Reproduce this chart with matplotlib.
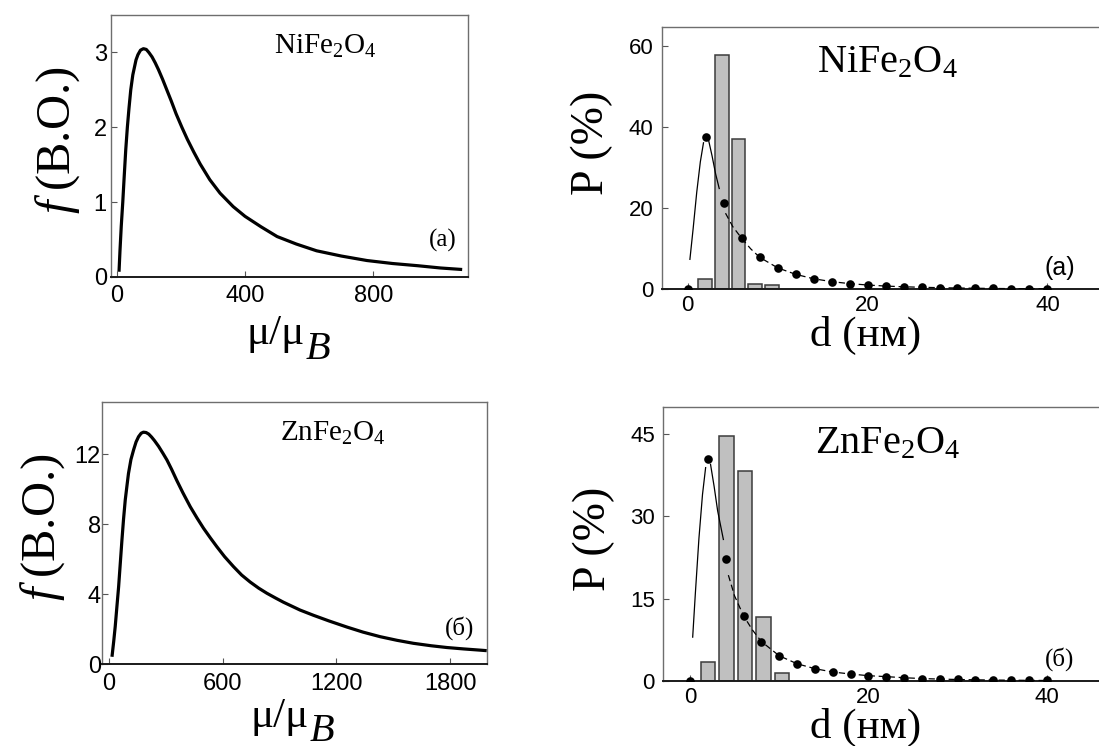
#!/usr/bin/env python3
"""Magnetic moment distributions f(mu/mu_B) and particle size histograms P(d)
for NiFe2O4 and ZnFe2O4."""

import matplotlib
matplotlib.use("Agg")
from matplotlib import pyplot as plt

plt.rcParams["mathtext.fontset"] = "custom"
plt.rcParams["mathtext.rm"] = "Liberation Serif"
plt.rcParams["mathtext.it"] = "Liberation Serif:italic"
plt.rcParams["mathtext.bf"] = "Liberation Serif:bold"

SERIF = "Liberation Serif"
SANS = "Liberation Sans"

# --- left column: moment distribution f (a.u.) vs mu/mu_B
ni_mu = [7, 10, 14, 18.7, 23, 28, 33, 38, 43.6, 50, 55, 60, 66, 74, 83, 92,
         100, 110, 120, 130, 143, 156, 170, 185, 203, 220, 240, 260, 290, 322,
         363, 400, 450, 500, 560, 623, 700, 780, 860, 940, 1010, 1077]
ni_f = [0.07, 0.35, 0.68, 1.0, 1.33, 1.7, 2.0, 2.25, 2.5, 2.7, 2.8, 2.9, 2.97,
        3.03, 3.05, 3.04, 3.0, 2.94, 2.86, 2.77, 2.64, 2.5, 2.35, 2.18, 2.0,
        1.84, 1.67, 1.51, 1.3, 1.12, 0.94, 0.81, 0.67, 0.54, 0.44, 0.35, 0.28,
        0.22, 0.18, 0.15, 0.12, 0.10]

zn_mu = [16, 25, 33, 42, 51, 60, 68.5, 77, 86, 95, 103, 116, 130, 143, 156,
         170, 182, 196, 210, 225, 240, 262, 285, 306, 330, 358, 390, 429, 465,
         499, 535, 569, 610, 657, 700, 745, 790, 833, 880, 920, 965, 1008,
         1079, 1160, 1255, 1340, 1430, 1520, 1606, 1700, 1782, 1870, 1957, 1993]
zn_f = [0.43, 1.3, 2.15, 3.3, 4.43, 5.8, 7.1, 8.3, 9.39, 10.2, 10.9, 11.7,
        12.25, 12.7, 13.0, 13.2, 13.26, 13.24, 13.15, 12.98, 12.78, 12.45,
        12.05, 11.67, 11.15, 10.5, 9.8, 9.0, 8.35, 7.77, 7.22, 6.72, 6.15,
        5.58, 5.1, 4.7, 4.35, 4.06, 3.78, 3.55, 3.32, 3.1, 2.8, 2.48, 2.13,
        1.84, 1.58, 1.37, 1.2, 1.06, 0.96, 0.88, 0.81, 0.78]

# --- right column: size histogram P (%) vs d (nm)
ni_bar_d = [1.9, 3.8, 5.65, 7.5, 9.35]
ni_bar_p = [2.5, 58.0, 37.1, 1.3, 1.0]
zn_bar_d = [2.05, 4.1, 6.15, 8.25, 10.3]
zn_bar_p = [3.5, 44.7, 38.2, 11.7, 1.5]

dot_d = [0, 2, 4, 6, 8, 10, 12, 14, 16, 18, 20, 22, 24, 26, 28, 30, 32, 34,
         36, 38, 40]
ni_dot_p = [0, 37.7, 21.4, 12.6, 7.9, 5.3, 3.7, 2.6, 1.9, 1.4, 1.06, 0.8, 0.62,
            0.5, 0.4, 0.32, 0.26, 0.21, 0.17, 0.14, 0.12]
zn_dot_p = [0, 40.4, 22.2, 11.9, 7.2, 4.6, 3.15, 2.25, 1.64, 1.28, 0.97, 0.8,
            0.6, 0.45, 0.35, 0.28, 0.22, 0.18, 0.15, 0.12, 0.1]

# fitted curve: solid rising part, then dashed tail
ni_fit_d = [0.24, 0.6, 1.0, 1.4, 1.75]
ni_fit_p = [7.4, 15.0, 24.0, 31.5, 36.2]
ni_fit2_d = [2.3, 2.7, 3.1, 3.5]
ni_fit2_p = [37.0, 33.0, 28.5, 24.9]
ni_tail_d = [4.2, 5, 6, 7, 8, 10, 12, 14, 16, 18, 20, 22, 24, 26, 28, 30, 32,
             34, 36, 38, 40]
ni_tail_p = [18.8, 15.5, 12.6, 10.0, 7.9, 5.3, 3.7, 2.6, 1.9, 1.4, 1.06, 0.8,
             0.62, 0.5, 0.4, 0.32, 0.26, 0.21, 0.17, 0.14, 0.12]

zn_fit_d = [0.3, 0.6, 1.0, 1.4, 1.75]
zn_fit_p = [8.0, 16.0, 26.0, 34.0, 38.9]
zn_fit2_d = [2.3, 2.7, 3.1, 3.74]
zn_fit2_p = [39.5, 35.5, 31.0, 25.8]
zn_tail_d = [4.3, 5, 6, 7, 8, 10, 12, 14, 16, 18, 20, 22, 24, 26, 28, 30, 32,
             34, 36, 38, 40]
zn_tail_p = [19.3, 15.5, 11.9, 9.3, 7.2, 4.6, 3.15, 2.25, 1.64, 1.28, 0.97, 0.8,
             0.6, 0.45, 0.35, 0.28, 0.22, 0.18, 0.15, 0.12, 0.1]


def style_axes(ax, tick_size, xpad, ypad):
    for side in ("left", "top", "right"):
        ax.spines[side].set_color("#6e6e6e")
        ax.spines[side].set_linewidth(1.0)
    ax.spines["bottom"].set_color("#1a1a1a")
    ax.spines["bottom"].set_linewidth(1.4)
    ax.tick_params(direction="in", length=4, width=0.8, color="#555555",
                   labelsize=tick_size)
    ax.tick_params(axis="x", pad=xpad)
    ax.tick_params(axis="y", pad=ypad)
    for lab in ax.get_xticklabels() + ax.get_yticklabels():
        lab.set_fontfamily(SANS)


def moment_panel(ax, mu, f, xlim, ylim, xticks, yticks, formula, tag,
                 ylab_x, ylab_y, ypad, xlab_y):
    ax.plot(mu, f, color="black", lw=2.3, solid_capstyle="butt",
            solid_joinstyle="round")
    ax.set_xlim(*xlim)
    ax.set_ylim(*ylim)
    ax.set_xticks(xticks)
    ax.set_yticks(yticks)
    style_axes(ax, 17, 6, ypad)

    ax.set_ylabel(r"$f\;$(В.О.)", fontsize=35, fontfamily=SERIF)
    ax.yaxis.set_label_coords(ylab_x, ylab_y)
    lab = ax.set_xlabel("μ/μ", fontsize=31, fontfamily=SERIF)
    ax.xaxis.set_label_coords(0.46, xlab_y)
    ax.annotate("B", xy=(1.0, 0.0), xycoords=lab, xytext=(1, -4),
                textcoords="offset points", fontsize=29, style="italic",
                fontfamily=SERIF, ha="left", va="baseline")

    ax.text(0.60, 0.88, formula, transform=ax.transAxes, fontsize=21,
            fontfamily=SERIF, ha="center", va="center")
    ax.text(0.93, 0.14, tag, transform=ax.transAxes, fontsize=18,
            fontfamily=SERIF, ha="center", va="center")


def size_panel(ax, bar_d, bar_p, width, fits, dot_p, xlim, ylim, yticks,
               formula, tag, tag_font, ylab_y):
    ax.bar(bar_d, bar_p, width=width, color="#c0c0c0", edgecolor="#3c3c3c",
           linewidth=1.1, zorder=2)
    (d1, p1), (d2, p2), (d3, p3) = fits
    ax.plot(d1, p1, color="black", lw=0.9, zorder=3)
    ax.plot(d2, p2, color="black", lw=0.9, zorder=3)
    ax.plot(d3, p3, color="black", lw=0.9, dashes=(5, 3), zorder=3)
    ax.plot(dot_d, dot_p, ls="none", marker="o", ms=6.2, mfc="black",
            mec="black", mew=0, zorder=4)
    ax.set_xlim(*xlim)
    ax.set_ylim(*ylim)
    ax.set_xticks([0, 20, 40])
    ax.set_yticks(yticks)
    style_axes(ax, 16, 4, 6)

    ax.set_ylabel("P (%)", fontsize=33, fontfamily=SERIF)
    ax.yaxis.set_label_coords(-0.11, ylab_y)
    ax.set_xlabel("d (нм)", fontsize=31, fontfamily=SERIF)
    ax.xaxis.set_label_coords(0.46, -0.1)

    ax.text(0.51, 0.865, formula, transform=ax.transAxes, fontsize=29,
            fontfamily=SERIF, ha="center", va="center")
    ax.text(0.90, 0.08, tag, transform=ax.transAxes, fontsize=18,
            fontfamily=tag_font, ha="center", va="center")


def main():
    fig = plt.figure(figsize=(10.99, 7.46), dpi=100)

    ax_tl = fig.add_axes([0.101, 0.6287, 0.3248, 0.3512])
    ax_bl = fig.add_axes([0.0931, 0.1095, 0.3498, 0.3520])
    ax_tr = fig.add_axes([0.6024, 0.6122, 0.4022, 0.3516])
    ax_br = fig.add_axes([0.6035, 0.0871, 0.4010, 0.3677])

    moment_panel(ax_tl, ni_mu, ni_f, (-18, 1095), (0, 3.5), [0, 400, 800],
                 [0, 1, 2, 3], r"NiFe$_2$O$_4$", "(а)", -0.08, 0.52, 3, -0.145)
    moment_panel(ax_bl, zn_mu, zn_f, (-35, 1993), (0, 15),
                 [0, 600, 1200, 1800], [0, 4, 8, 12], r"ZnFe$_2$O$_4$", "(б)",
                 -0.092, 0.52, 1, -0.125)

    size_panel(ax_tr, ni_bar_d, ni_bar_p, 1.5,
               [(ni_fit_d, ni_fit_p), (ni_fit2_d, ni_fit2_p),
                (ni_tail_d, ni_tail_p)],
               ni_dot_p, (-2.86, 46.3), (0, 64.8), [0, 20, 40, 60],
               r"NiFe$_2$O$_4$", "(a)", SANS, 0.56)
    size_panel(ax_br, zn_bar_d, zn_bar_p, 1.6,
               [(zn_fit_d, zn_fit_p), (zn_fit2_d, zn_fit2_p),
                (zn_tail_d, zn_tail_p)],
               zn_dot_p, (-3.0, 46.4), (0, 50), [0, 15, 30, 45],
               r"ZnFe$_2$O$_4$", "(б)", SERIF, 0.52)

    fig.savefig("out.png", dpi=100)


if __name__ == "__main__":
    main()
